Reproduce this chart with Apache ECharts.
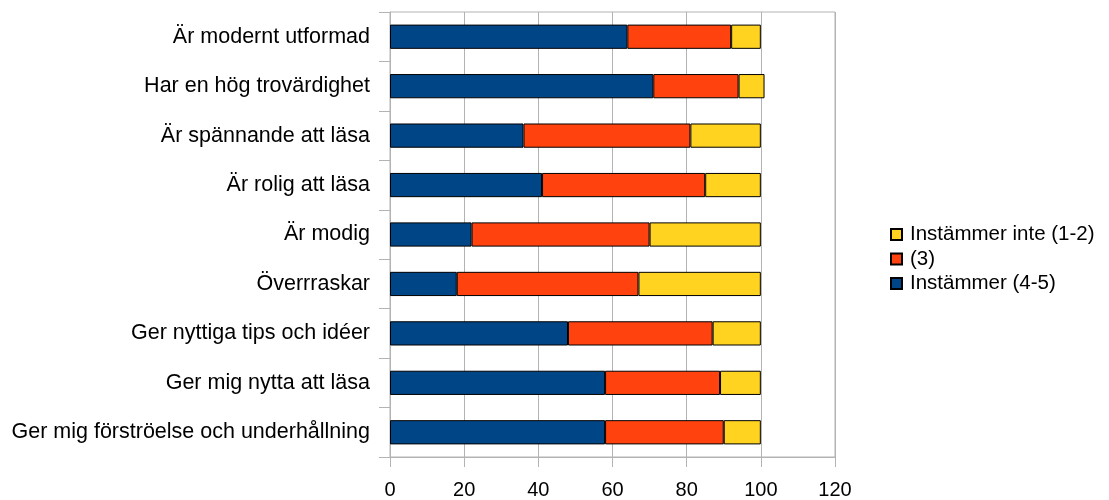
<!DOCTYPE html>
<html>
<head>
<meta charset="utf-8">
<script src="https://cdn.jsdelivr.net/npm/echarts@6/dist/echarts.min.js"></script>
<style>
  html, body { margin: 0; padding: 0; background: #fff; }
  #chart { width: 1109px; height: 500px; }
</style>
</head>
<body>
<div id="chart"></div>
<script>
// Statements rated by readers, top to bottom
const categories = [
  'Är modernt utformad',
  'Har en hög trovärdighet',
  'Är spännande att läsa',
  'Är rolig att läsa',
  'Är modig',
  'Överrraskar',
  'Ger nyttiga tips och idéer',
  'Ger mig nytta att läsa',
  'Ger mig förströelse och underhållning'
];

// Share of answers (%) per group
const agree = [64, 71, 36, 41, 22, 18, 48, 58, 58];      // Instämmer (4-5)
const neutral = [28, 23, 45, 44, 48, 49, 39, 31, 32];    // (3)
const disagree = [8, 7, 19, 15, 30, 33, 13, 11, 10];     // Instämmer inte (1-2)

const seriesNames = ['Instämmer (4-5)', '(3)', 'Instämmer inte (1-2)'];
const xTicks = { min: 0, max: 120, step: 20 };

const colors = { agree: '#004586', neutral: '#ff420e', disagree: '#ffd320' };
const gridGrey = '#b3b3b3';
const font = 'Liberation Sans, Arial, sans-serif';

const chart = echarts.init(document.getElementById('chart'), null, { renderer: 'canvas' });

function barSeries(name, data, color) {
  return {
    name: name,
    type: 'bar',
    stack: 'total',
    data: data,
    barWidth: '49%',
    itemStyle: { color: color, borderColor: '#000', borderWidth: 1 },
    emphasis: { disabled: true }
  };
}

chart.setOption({
  animation: false,
  textStyle: { fontFamily: font },
  grid: {
    left: 390, right: 274, top: 12, bottom: 43,
    show: true, borderColor: gridGrey, borderWidth: 1
  },
  legend: {
    orient: 'vertical',
    left: 885,
    top: 219,
    icon: 'rect',
    itemWidth: 11,
    itemHeight: 11,
    itemGap: 3.5,
    data: [seriesNames[2], seriesNames[1], seriesNames[0]],
    textStyle: { fontSize: 20.5, color: '#000', fontFamily: font, padding: [0, 0, 0, 3], lineHeight: 20 }
  },
  xAxis: {
    type: 'value',
    min: xTicks.min,
    max: xTicks.max,
    interval: xTicks.step,
    axisLine: { show: true, lineStyle: { color: gridGrey } },
    axisTick: { show: true, length: 10, lineStyle: { color: gridGrey } },
    axisLabel: { fontSize: 20, color: '#000', margin: 23, fontFamily: font },
    splitLine: { show: true, lineStyle: { color: gridGrey, width: 1 } }
  },
  yAxis: {
    type: 'category',
    data: categories,
    inverse: true,
    axisLine: { show: true, lineStyle: { color: gridGrey } },
    axisTick: { show: true, length: 11, lineStyle: { color: gridGrey } },
    axisLabel: { fontSize: 21.5, color: '#000', margin: 20, fontFamily: font }
  },
  series: [
    barSeries(seriesNames[0], agree, colors.agree),
    barSeries(seriesNames[1], neutral, colors.neutral),
    barSeries(seriesNames[2], disagree, colors.disagree)
  ]
});
</script>
</body>
</html>
